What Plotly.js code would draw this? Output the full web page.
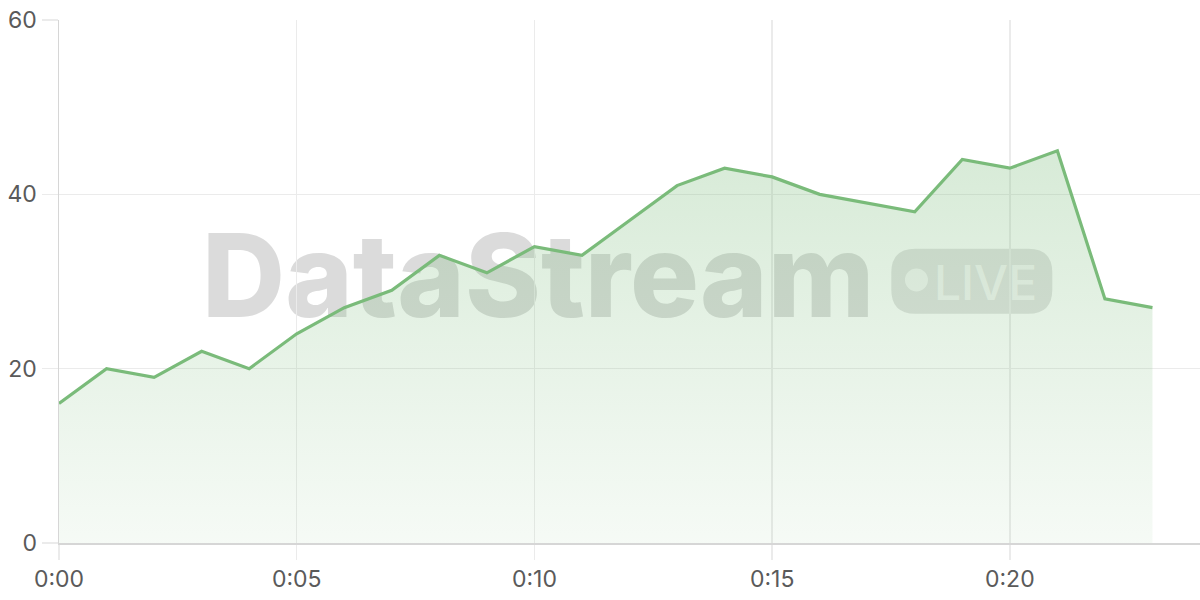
<!DOCTYPE html>
<html>
<head>
<meta charset="utf-8">
<script src="https://cdn.plot.ly/plotly-3.0.1.min.js"></script>
<style>
  html, body { margin: 0; padding: 0; background: #fff; }
  #chart { width: 1200px; height: 600px; }
</style>
</head>
<body>
<div id="chart"></div>
<script>
// minutes since start, and the live value at each minute
const minutes = [0, 1, 2, 3, 4, 5, 6, 7, 8, 9, 10, 11, 12, 13, 14, 15, 16, 17, 18, 19, 20, 21, 22, 23];
const values = [16, 20, 19, 22, 20, 24, 27, 29, 33, 31, 34, 33, 37, 41, 43, 42, 40, 39, 38, 44, 43, 45, 28, 27];

const xTicks = [0, 5, 10, 15, 20];
const xTickLabels = ['0:00', '0:05', '0:10', '0:15', '0:20'];
const yTicks = [0, 20, 40, 60];

const green = 'rgb(122,187,122)';

var series = {
  x: minutes,
  y: values,
  type: 'scatter',
  mode: 'lines',
  line: {color: green, width: 3.2},
  fill: 'tozeroy',
  fillgradient: {
    type: 'vertical',
    colorscale: [[0, 'rgba(122,187,122,0.07)'], [1, 'rgba(122,187,122,0.30)']]
  },
  hoverinfo: 'skip'
};

// rounded badge behind "LIVE", drawn in pixels around an anchor
function roundedRect(w, h, r) {
  var x0 = -w / 2, x1 = w / 2, y0 = -h / 2, y1 = h / 2;
  return 'M' + (x0 + r) + ',' + y0 +
    ' L' + (x1 - r) + ',' + y0 + ' Q' + x1 + ',' + y0 + ' ' + x1 + ',' + (y0 + r) +
    ' L' + x1 + ',' + (y1 - r) + ' Q' + x1 + ',' + y1 + ' ' + (x1 - r) + ',' + y1 +
    ' L' + (x0 + r) + ',' + y1 + ' Q' + x0 + ',' + y1 + ' ' + x0 + ',' + (y1 - r) +
    ' L' + x0 + ',' + (y0 + r) + ' Q' + x0 + ',' + y0 + ' ' + (x0 + r) + ',' + y0 + ' Z';
}

var watermark = [
  {
    type: 'rect', xref: 'paper', yref: 'paper', layer: 'below',
    x0: 0.30, x1: 0.54, y0: 0.47, y1: 0.57,
    line: {width: 0}, fillcolor: 'rgba(0,0,0,0)',
    label: {
      text: 'DataStream', textposition: 'middle center',
      font: {family: 'Inter, Roboto, sans-serif', size: 115, weight: 800, color: 'rgba(110,110,110,0.25)'}
    }
  },
  {
    type: 'path', xref: 'paper', yref: 'paper', layer: 'below',
    xsizemode: 'pixel', ysizemode: 'pixel', xanchor: 0.8, yanchor: 0.5006,
    path: roundedRect(161, 65, 24),
    line: {width: 0}, fillcolor: 'rgba(110,110,110,0.2)'
  },
  {
    type: 'circle', xref: 'paper', yref: 'paper', layer: 'below',
    xsizemode: 'pixel', ysizemode: 'pixel', xanchor: 0.7515, yanchor: 0.5029,
    x0: -11.5, x1: 11.5, y0: -11.5, y1: 11.5,
    line: {width: 0}, fillcolor: 'rgba(255,255,255,0.65)'
  },
  {
    type: 'rect', xref: 'paper', yref: 'paper', layer: 'below',
    x0: 0.802, x1: 0.822, y0: 0.49, y1: 0.51,
    line: {width: 0}, fillcolor: 'rgba(0,0,0,0)',
    label: {
      text: 'LIVE', textposition: 'middle center',
      font: {family: 'Inter, Roboto, sans-serif', size: 48, weight: 500, color: 'rgba(255,255,255,0.65)'}
    }
  }
];

var layout = {
  width: 1200,
  height: 600,
  margin: {l: 59, r: 0, t: 20, b: 57},
  paper_bgcolor: '#ffffff',
  plot_bgcolor: '#ffffff',
  showlegend: false,
  font: {family: 'Inter, Roboto, sans-serif', size: 23, color: '#5a5a5a'},
  xaxis: {
    range: [0, 24],
    tickvals: xTicks,
    ticktext: xTickLabels,
    showgrid: true,
    gridcolor: '#ebebeb',
    gridwidth: 1.5,
    ticks: 'outside',
    ticklen: 15,
    tickcolor: '#ebebeb',
    tickwidth: 1.5,
    showline: true,
    linecolor: '#d6d6d6',
    linewidth: 1.5,
    zeroline: false,
    fixedrange: true
  },
  yaxis: {
    range: [0, 60],
    tickvals: yTicks,
    showgrid: true,
    gridcolor: '#ebebeb',
    gridwidth: 1.5,
    ticks: 'outside',
    ticklen: 16,
    tickcolor: '#ebebeb',
    tickwidth: 1.5,
    showline: true,
    linecolor: '#d6d6d6',
    linewidth: 1.5,
    zeroline: false,
    fixedrange: true
  },
  shapes: watermark
};

Plotly.newPlot('chart', [series], layout, {displayModeBar: false, staticPlot: true});
</script>
</body>
</html>
